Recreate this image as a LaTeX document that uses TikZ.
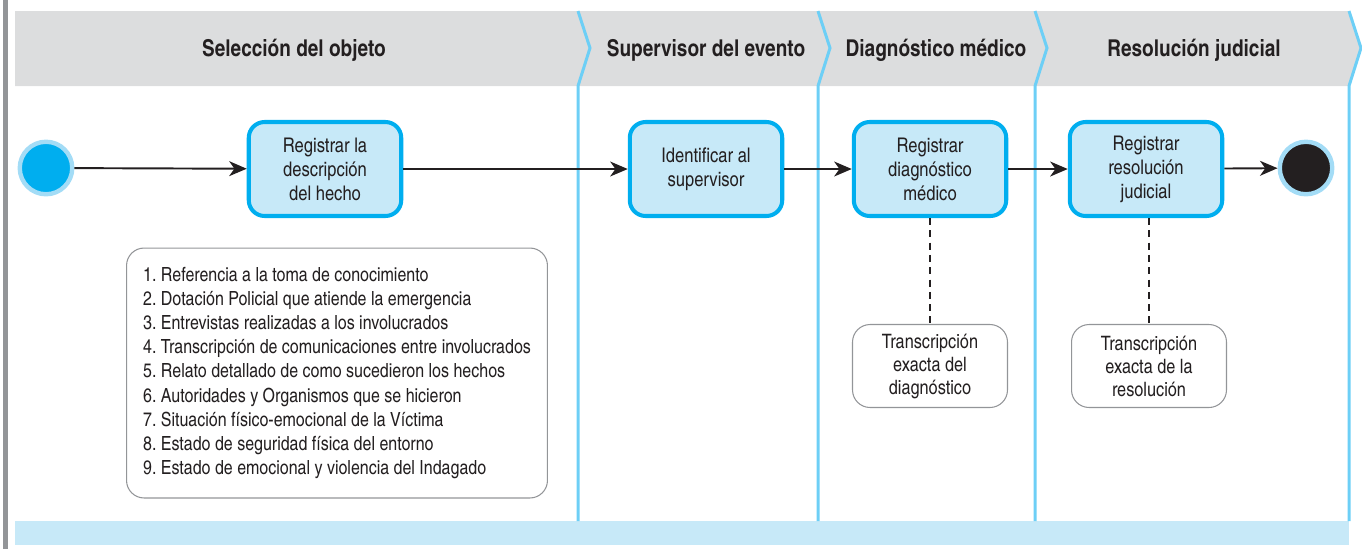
\documentclass[tikz,border=0pt]{standalone}
\usepackage{fontspec}
\setmainfont{texgyreheroscn}[Extension=.otf,UprightFont=*-regular,BoldFont=*-bold,ItalicFont=*-italic,BoldItalicFont=*-bolditalic]
\usetikzlibrary{arrows.meta}
\frenchspacing
\definecolor{laneblue}{HTML}{6DCFF6}
\definecolor{actblue}{HTML}{00AEEF}
\definecolor{actfill}{HTML}{C7E9F8}
\definecolor{ringblue}{HTML}{A3DCF6}
\definecolor{headgray}{HTML}{DCDDDE}
\definecolor{notegray}{HTML}{939598}
\definecolor{endblack}{HTML}{231F20}
\tikzset{every scope/.style={>={Stealth[length=10pt,width=8.5pt,inset=3pt]},line width=1.1pt},
         lane/.style={draw=laneblue,line width=1.7pt},
         lanetitle/.style={font=\bfseries\fontsize{13.2}{16}\selectfont,text=endblack},
         activity/.style={draw=actblue,fill=actfill,line width=2.3pt,rounded corners=9pt,
                          minimum width=3.05cm,minimum height=1.88cm,align=center,
                          font=\fontsize{11.5}{13.6}\selectfont,text=endblack},
         note/.style={draw=notegray,line width=0.6pt,rounded corners=10pt,align=center,
                      font=\fontsize{11.3}{13.1}\selectfont,text=endblack},
         flow/.style={->,draw=endblack},
         anchorline/.style={draw=endblack,line width=0.6pt,dash pattern=on 4pt off 3pt}}
\begin{document}
\begin{tikzpicture}[x=0.02cm,y=-0.02cm]
  \useasboundingbox (0,0) rectangle (1362,549);
  % swimlanes
  \fill[notegray] (3,0) rectangle (8,549);
  \fill[headgray] (15,11) -- (1349,11) -- (1361,48) -- (1349,86) -- (15,86) -- cycle;
  \fill[actfill] (15,521) rectangle (1349,545);
  \foreach \x in {578,818,1035,1349}
    \draw[lane] (\x,11) -- (\x+12,48) -- (\x,86) -- (\x,521);
  \node[lanetitle] (tSel) at (294,50) {Selección del objeto};
  \node[lanetitle] (tSup) at (706,50) {Supervisor del evento};
  \node[lanetitle] (tDiag) at (936,50) {Diagnóstico médico};
  \node[lanetitle] (tRes) at (1194,50) {Resolución judicial};
  % actividades
  \node[circle,fill=actblue,draw=ringblue,line width=2.5pt,minimum size=1.05cm,inner sep=0pt] (inicio) at (46,168) {};
  \node[activity] (regDesc) at (325,169) {Registrar la\\descripción\\del hecho};
  \node[activity] (idSup) at (706,169) {Identificar al\\supervisor};
  \node[activity] (regDiag) at (930,169) {Registrar\\diagnóstico\\médico};
  \node[activity] (regRes) at (1146,169) {Registrar\\resolución\\judicial};
  \node[circle,fill=endblack,draw=ringblue,line width=2.5pt,minimum size=1.05cm,inner sep=0pt] (fin) at (1306,168) {};
  \draw[flow] (inicio) -- (regDesc);
  \draw[flow] (regDesc) -- (idSup);
  \draw[flow] (idSup) -- (regDiag);
  \draw[flow] (regDiag) -- (regRes);
  \draw[flow] (regRes) -- (fin);
  % notas
  \node[note,align=left,minimum width=8.42cm,minimum height=5cm,inner sep=0pt,
        font=\fontsize{11.1}{13.75}\selectfont] (lista) at (337,373)
    {1. Referencia a la toma de conocimiento\\
     2. Dotación Policial que atiende la emergencia\\
     3. Entrevistas realizadas a los involucrados\\
     4. Transcripción de comunicaciones entre involucrados\\
     5. Relato detallado de como sucedieron los hechos\\
     6. Autoridades y Organismos que se hicieron\\
     7. Situación físico-emocional de la Víctima\\
     8. Estado de seguridad física del entorno\\
     9. Estado de emocional y violencia del Indagado};
  \node[note,minimum width=3.1cm,minimum height=1.66cm,inner sep=0pt] (transDiag) at (930,366) {Transcripción\\exacta del\\diagnóstico};
  \node[note,minimum width=3.1cm,minimum height=1.66cm,inner sep=0pt] (transRes) at (1149,366) {Transcripción\\exacta de la\\resolución};
  \draw[anchorline] (regDiag) -- (transDiag);
  \draw[anchorline] (regRes.south -| transRes) -- (transRes);
\end{tikzpicture}
\end{document}
